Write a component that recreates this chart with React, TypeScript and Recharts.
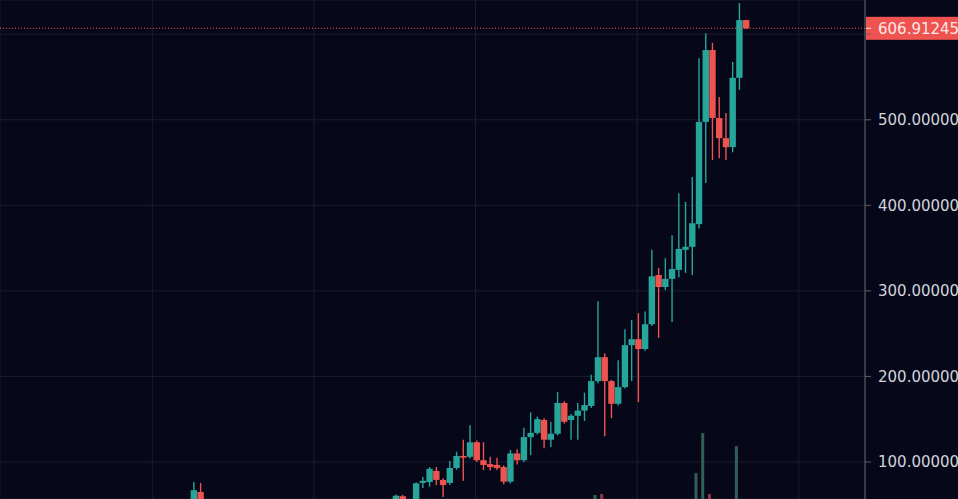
import React from "react";
import { ComposedChart, Bar, Cell, XAxis, YAxis, CartesianGrid, ReferenceLine } from "recharts";

const UP = "#26a69a";
const DOWN = "#ef5350";
const UP_VOL = "#2f5f56";
const DOWN_VOL = "#8a3a42";
const BG = "#060719";
const GRID = "#1b1e2e";
const AXIS_TEXT = "#d1d4dc";
const FONT = "'DejaVu Sans', sans-serif";

// candle slot number (one per day)
const candleIndex = [
  30, 31, 60, 61, 63, 64, 65, 66, 67, 68, 69, 70, 71, 72, 73, 74, 75, 76, 77, 78, 79, 80,
  81, 82, 83, 84, 85, 86, 87, 88, 89, 90, 91, 92, 93, 94, 95, 96, 97, 98, 99, 100, 101,
  102, 103, 104, 105, 106, 107, 108, 109, 110, 111, 112,
];
const openPrices = [
  55, 65, 55, 60, 54, 75.5, 76.5, 89.5, 79, 75.5, 93, 107, 106, 123, 102, 97.5, 96.5, 94, 77, 110, 102, 129,
  134, 149, 126, 133, 169, 149, 154, 160, 165.5, 194.5, 222.5, 194.5, 168, 187.5, 236.5, 243.5, 232, 261, 318.5, 304.5, 314,
  324.5, 348, 351.5, 378, 497.5, 581.5, 502, 478.5, 468, 549, 616.5,
];
const highPrices = [
  76.6, 75.5, 62, 61.5, 76, 82.5, 94, 94, 81, 101, 112, 126, 143, 125, 123, 106, 105, 96, 114, 115, 140, 158,
  153, 151, 147, 182, 171, 156, 169, 181, 202, 288, 227, 196, 219, 255, 266, 274, 276, 348, 327, 338, 365,
  414, 404, 433, 572, 601, 590, 526.5, 508, 567.5, 636.5, 617,
];
const lowPrices = [
  50, 50, 52, 52, 52, 69.5, 71, 73, 59, 73, 91, 78, 104, 100, 90.5, 90, 90.5, 74, 75, 97, 100, 108,
  132, 116, 117.5, 131, 145, 126, 126, 148, 163, 192, 130, 151, 166, 186, 194.5, 170, 230, 259, 245, 301, 263.5,
  316, 321, 318.5, 373, 426, 453, 455, 453, 462, 535, 606,
];
const closePrices = [
  67, 54, 60.5, 56, 75, 78, 92, 79, 73, 93, 107, 105, 123, 102, 96.5, 94, 93, 77, 110, 102, 129, 134,
  150, 126, 133, 169, 147, 154, 160, 166.5, 194.5, 222.5, 194.5, 168, 187.5, 236.5, 243.5, 232, 261, 317, 304.5, 314, 325.5,
  349, 351.5, 379, 497.5, 581.5, 502, 478.5, 468, 549, 616.5, 606.91245,
];

// only the volume bars that reach into the visible area
const volumeIndex = [90, 91, 105, 106, 107, 111];
const volumes = [4, 5, 26, 66, 5, 53];

const priceTicks = [100, 200, 300, 400, 500, 600];
const timeGridAt = [24, 48, 72, 96, 120];

const LAST_PRICE = closePrices[closePrices.length - 1];

const data = candleIndex.map((i, k) => {
  const v = volumeIndex.indexOf(i);
  return {
    i,
    open: openPrices[k],
    high: highPrices[k],
    low: lowPrices[k],
    close: closePrices[k],
    range: [lowPrices[k], highPrices[k]],
    vol: v >= 0 ? volumes[v] : undefined,
  };
});

function Candle(props: any) {
  const { x, y, width, height, payload } = props;
  if (!payload || height == null || isNaN(y)) return null;
  const { open, close, high, low } = payload;
  const color = close >= open ? UP : DOWN;
  const top0 = height < 0 ? y + height : y;
  const h = Math.abs(height);
  const ratio = h / (high - low);
  const yOf = (v: number) => top0 + (high - v) * ratio;
  const bodyTop = yOf(Math.max(open, close));
  const bodyBot = yOf(Math.min(open, close));
  const cx = x + width / 2;
  return (
    <g>
      <line x1={cx} x2={cx} y1={top0} y2={top0 + h} stroke={color} strokeWidth={1.4} />
      <rect x={cx - 3.2} y={bodyTop} width={6.4} height={Math.max(1.5, bodyBot - bodyTop)} fill={color} />
    </g>
  );
}

function PriceTag(props: any) {
  const vb = props.viewBox;
  if (!vb) return null;
  const right = vb.x + vb.width;
  const cy = vb.y;
  return (
    <g>
      <rect x={right + 1} y={cy - 11.5} width={100} height={23} fill={DOWN} />
      <line x1={right + 1} x2={right + 6} y1={cy} y2={cy} stroke="#fde9e9" />
      <text x={right + 13} y={cy} dy="0.355em" fill="#fde9e9" fontSize={15} fontFamily={FONT}>
        {LAST_PRICE.toFixed(5)}
      </text>
    </g>
  );
}

export default function App() {
  return (
    <div
      style={{
        position: "fixed",
        top: 0,
        left: 0,
        width: 958,
        height: 499,
        overflow: "hidden",
        background: BG,
        fontFamily: FONT,
      }}
    >
      <ComposedChart width={958} height={499} data={data} margin={{ top: 0, right: 0, bottom: 0, left: 0 }}>
        <CartesianGrid yAxisId="price" stroke={GRID} strokeWidth={1} />
        <XAxis
          type="number"
          dataKey="i"
          domain={[1.39, 129.82]}
          ticks={timeGridAt}
          allowDataOverflow
          hide
        />
        <YAxis yAxisId="vol" hide domain={[0, 500]} allowDataOverflow />
        <YAxis
          yAxisId="price"
          orientation="right"
          width={93}
          domain={[56.7, 640]}
          allowDataOverflow
          ticks={priceTicks}
          interval={0}
          tickFormatter={(v: number) => (v === 600 ? "" : v.toFixed(5))}
          tick={{ fill: AXIS_TEXT, fontSize: 15, fontFamily: FONT }}
          tickSize={6}
          tickMargin={7}
          axisLine={{ stroke: "#5d606b" }}
          tickLine={{ stroke: "#5d606b" }}
        />
        <Bar yAxisId="vol" dataKey="vol" barSize={6} isAnimationActive={false}>
          {data.map((d) => (
            <Cell key={d.i} fill={d.close >= d.open ? UP_VOL : DOWN_VOL} />
          ))}
        </Bar>
        <Bar yAxisId="price" dataKey="range" barSize={6} shape={<Candle />} isAnimationActive={false} />
        <ReferenceLine
          yAxisId="price"
          y={LAST_PRICE}
          stroke={DOWN}
          strokeDasharray="1 2"
          label={<PriceTag />}
        />
      </ComposedChart>
    </div>
  );
}
